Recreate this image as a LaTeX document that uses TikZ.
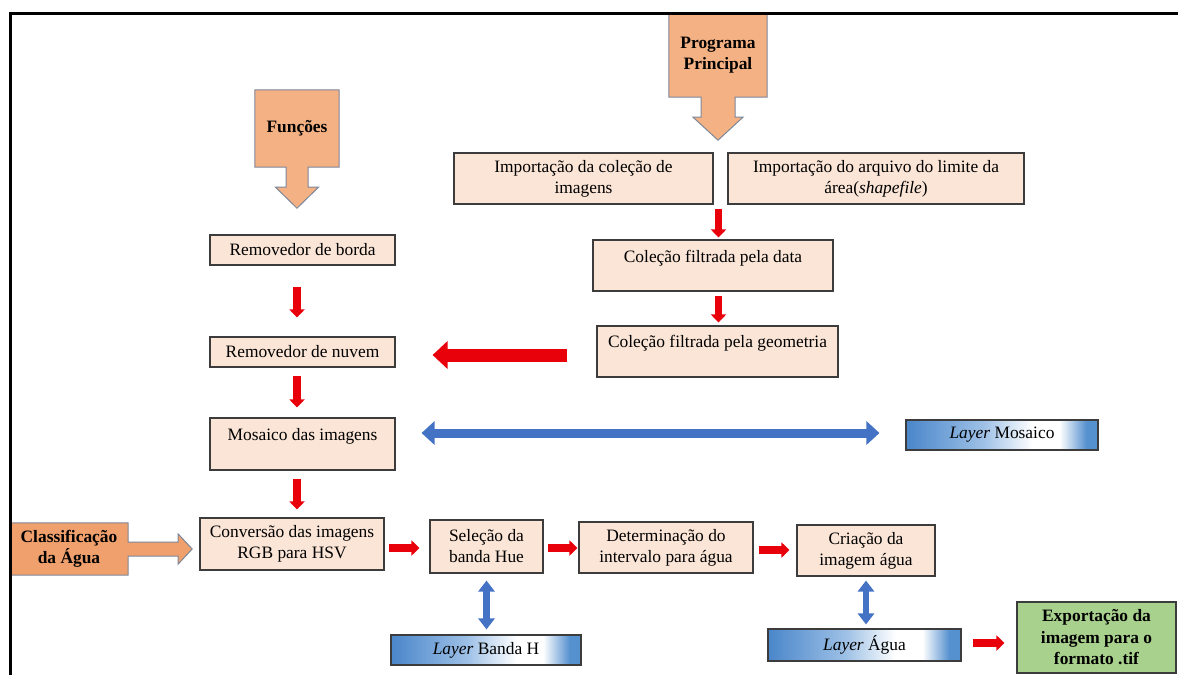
\documentclass[tikz,border=0pt]{standalone}
\usepackage{fontspec}
\setmainfont{Liberation Serif}
\usetikzlibrary{arrows.meta,calc,backgrounds}
\definecolor{peach}{HTML}{FBE5D6}
\definecolor{orangeC}{HTML}{F4B183}
\definecolor{orangeD}{HTML}{F0A06C}
\definecolor{edgeC}{HTML}{7D879A}
\definecolor{boxedge}{HTML}{3C3C3C}
\definecolor{redA}{HTML}{E8000B}
\definecolor{blueA}{HTML}{4472C4}
\definecolor{greenE}{HTML}{A9D18E}
\definecolor{lyA}{HTML}{4A86CA}
\definecolor{lyM}{HTML}{9DC0E6}
\definecolor{lyB}{HTML}{5590CF}
\pgfdeclarehorizontalshading{layershade}{100bp}{color(0bp)=(lyA); color(25bp)=(lyA); color(45bp)=(lyM); color(58bp)=(white); color(65bp)=(white); color(72bp)=(lyB); color(100bp)=(lyB)}
\begin{document}
\begin{tikzpicture}[x=1pt,y=-1pt,
  every node/.style={font=\fontsize{17.4pt}{21pt}\selectfont, inner sep=0pt, align=center},
  boldtext/.style={font=\fontsize{17.4pt}{21.5pt}\selectfont\bfseries},
  box/.style={draw=boxedge, line width=1.1pt, fill=peach},
  layerbox/.style={draw=boxedge, line width=1.1pt, shading=layershade},
  greenbox/.style={draw=boxedge, line width=1.1pt, fill=greenE},
  callout/.style={draw=edgeC, line width=1pt, fill=orangeC, line join=miter},
  redv/.style={draw=redA, line width=7.5pt, -{Triangle[width=15pt,length=8pt]}},
  redbig/.style={draw=redA, line width=13pt, -{Triangle[width=27pt,length=15pt]}},
  bluev/.style={draw=blueA, line width=6.5pt, {Triangle[width=16pt,length=11pt]}-{Triangle[width=16pt,length=11pt]}},
  blueh/.style={draw=blueA, line width=9pt, {Triangle[width=23pt,length=13pt]}-{Triangle[width=23pt,length=13pt]}}
]
\useasboundingbox (0,0) rectangle (1178,675);

% callouts
\node[boldtext, minimum width=84pt, minimum height=77pt] (func) at (297,128.5) {Funções};
\node[boldtext, minimum width=98pt, minimum height=84pt] (prog) at (718,55) {Programa\\Principal};
\node[boldtext, minimum width=118pt, minimum height=52pt] (cls) at (69,549) {Classificação\\da Água};
\begin{scope}[on background layer]
\path[callout] (func.north west) -- (func.north east) -- (func.south east)
  -- ($(func.south)+(11,0)$) -- ++(0,20) -- ++(10.5,0) -- ($(func.south)+(0,41)$)
  -- ($(func.south)+(-21.5,20)$) -- ++(10.5,0) -- ($(func.south)+(-11,0)$)
  -- (func.south west) -- cycle;
\path[callout] (prog.north west) -- (prog.north east) -- (prog.south east)
  -- ($(prog.south)+(17,0)$) -- ++(0,20) -- ++(8,0) -- ($(prog.south)+(0,43)$)
  -- ($(prog.south)+(-25,20)$) -- ++(8,0) -- ($(prog.south)+(-17,0)$)
  -- (prog.south west) -- cycle;
\path[callout, fill=orangeD] (cls.north west) -- (cls.north east)
  -- ($(cls.east)+(0,-7)$) -- ++(50,0) -- ++(0,-8) -- ($(cls.east)+(64,0)$)
  -- ($(cls.east)+(50,15)$) -- ++(0,-8) -- ($(cls.east)+(0,7)$)
  -- (cls.south east) -- (cls.south west) -- cycle;
\end{scope}

% main program boxes
\node[box, minimum width=259pt, minimum height=51pt] (imp1) at (583.5,178.5) {Importação da coleção de\\imagens};
\node[box, minimum width=296pt, minimum height=51pt] (imp2) at (876,178.5) {Importação do arquivo do limite da\\área(\textit{shapefile})};
\node[box, minimum width=240pt, text height=22.7pt, text depth=28.3pt] (data) at (713,265.5) {Coleção filtrada pela data};
\node[box, minimum width=241pt, text height=21.7pt, text depth=29.3pt] (geom) at (717.5,351.5) {Coleção filtrada pela geometria};

% functions
\node[box, minimum width=185pt, minimum height=30pt] (borda) at (302.5,250) {Removedor de borda};
\node[box, minimum width=185pt, minimum height=30pt] (nuvem) at (302.5,352) {Removedor de nuvem};
\node[box, minimum width=185pt, text height=22.7pt, text depth=29.3pt] (mos) at (302.5,444) {Mosaico das imagens};
\node[layerbox, minimum width=192pt, minimum height=30pt] (layM) at (1002,435) {\textit{Layer} Mosaico};

% water classification row
\node[box, minimum width=184pt, minimum height=52pt] (conv) at (292,544) {Conversão das imagens\\RGB para HSV};
\node[box, minimum width=113pt, minimum height=53pt] (sel) at (486.5,546.5) {Seleção da\\banda Hue};
\node[box, minimum width=174pt, minimum height=51pt] (det) at (666,547.5) {Determinação do\\intervalo para água};
\node[box, minimum width=138pt, minimum height=51pt] (cria) at (866,550.5) {Criação da\\imagem água};
\node[layerbox, minimum width=190pt, minimum height=30pt] (layH) at (486,650) {\textit{Layer} Banda H};
\node[layerbox, minimum width=193pt, minimum height=32pt] (layA) at (864.5,645) {\textit{Layer} Água};
\node[greenbox, boldtext, minimum width=159pt, minimum height=71pt] (exp) at (1096.5,637.5) {Exportação da\\imagem para o\\formato .tif};

% helper coordinates
\coordinate (g1) at ($(imp1.south east)!0.5!(imp2.south west)+(-2,0)$);
\coordinate (lx) at (297,0);
\coordinate (by) at (0,355);
\coordinate (by2) at (0,433);
\coordinate (ry) at (0,548);
\coordinate (ry2) at (0,550);
\coordinate (ry3) at (0,643);

% red arrows
\draw[redv, shorten <=4pt, shorten >=2pt] (g1) -- (g1 |- data.north);
\draw[redv, shorten <=4pt, shorten >=3pt] (g1 |- data.south) -- (g1 |- geom.north);
\draw[redbig, shorten <=29pt, shorten >=37pt] (geom.west |- by) -- (nuvem.east |- by);
\draw[redv, shorten <=21pt, shorten >=19pt] (lx |- borda.south) -- (lx |- nuvem.north);
\draw[redv, shorten <=8pt, shorten >=10pt] (lx |- nuvem.south) -- (lx |- mos.north);
\draw[redv, shorten <=8pt, shorten >=8pt] (lx |- mos.south) -- (lx |- conv.north);
\draw[redv, shorten <=4pt, shorten >=10pt] (conv.east |- ry) -- (sel.west |- ry);
\draw[redv, shorten <=4pt, shorten >=1pt] (sel.east |- ry) -- (det.west |- ry);
\draw[redv, shorten <=5pt, shorten >=7pt] (det.east |- ry2) -- (cria.west |- ry2);
\draw[redv, shorten <=11pt, shorten >=12pt] (layA.east |- ry3) -- (exp.west |- ry3);

% blue arrows
\draw[blueh, shorten <=26pt, shorten >=26pt] (mos.east |- by2) -- (layM.west |- by2);
\draw[bluev, shorten <=7pt, shorten >=5pt] (sel.south) -- (sel.south |- layH.north);
\draw[bluev, shorten <=4pt, shorten >=4pt] (cria.south) -- (cria.south |- layA.north);

% frame
\draw[line width=2.6pt, line join=miter] (1178,13.5) -- (10.5,13.5) -- (10.5,675);
\end{tikzpicture}
\end{document}
